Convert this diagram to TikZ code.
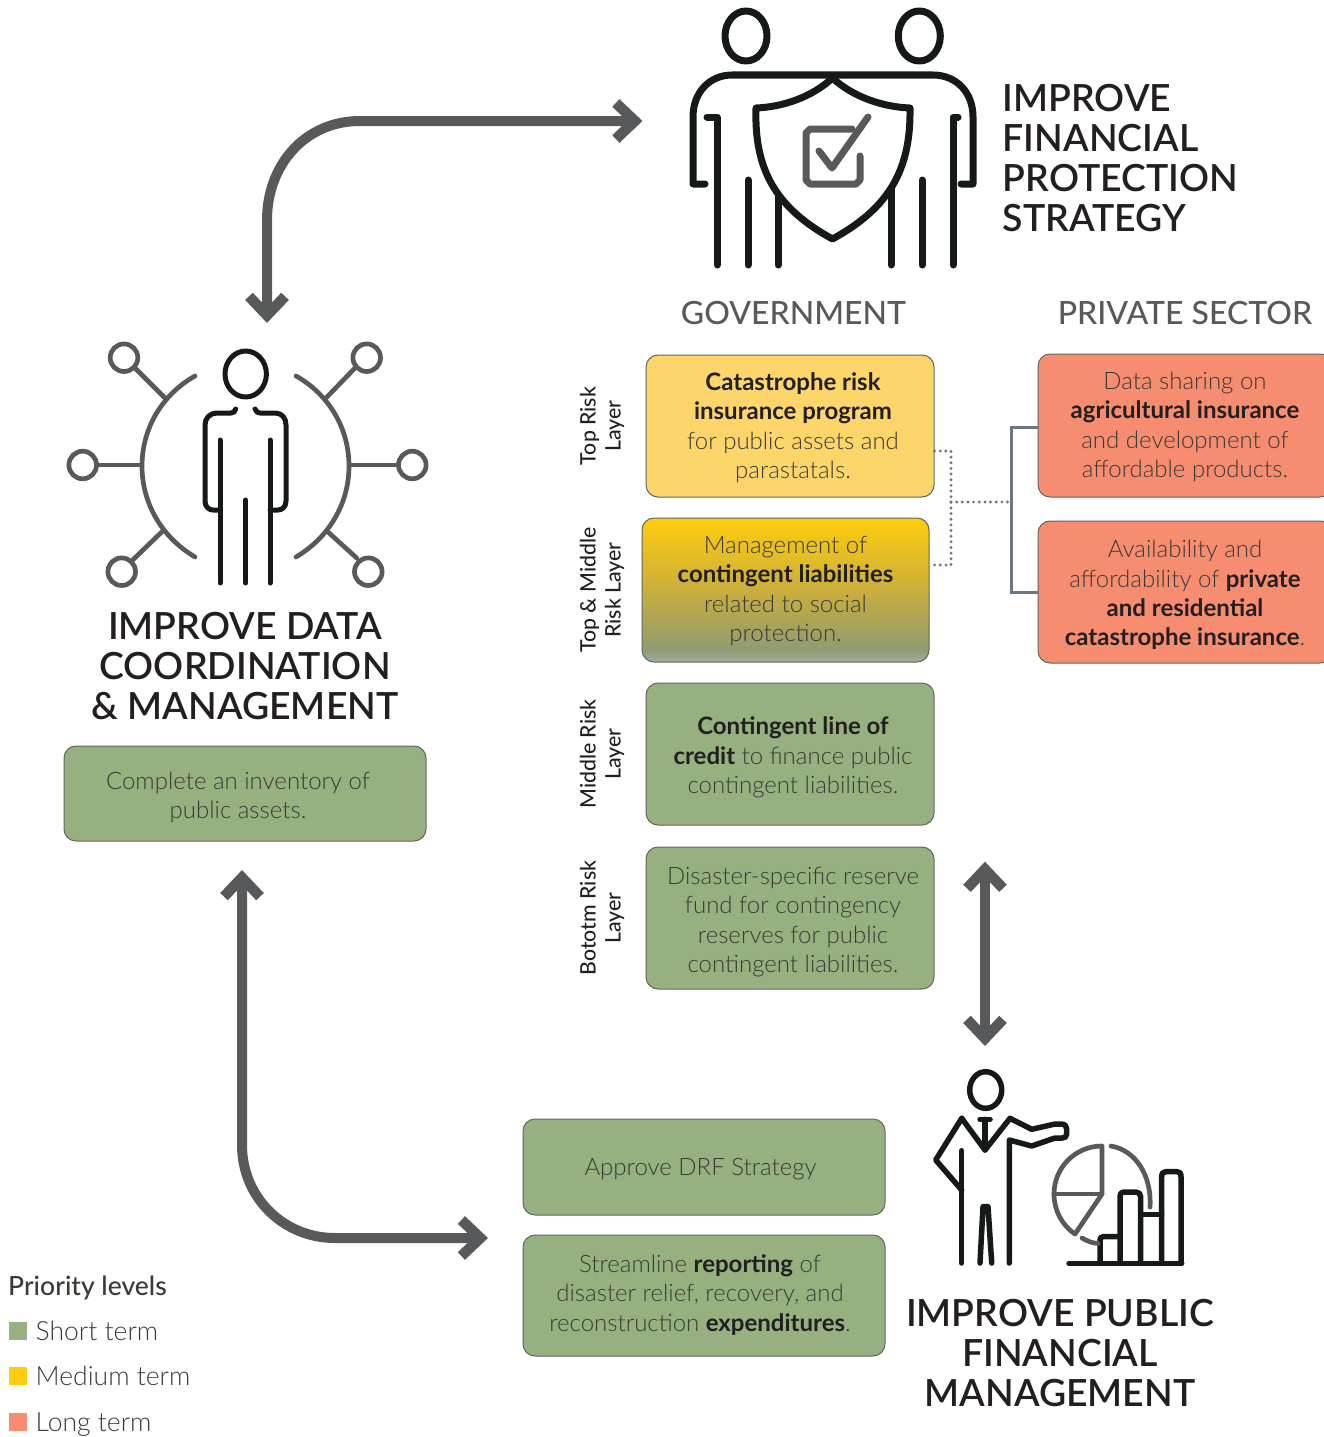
\documentclass[tikz,border=0pt]{standalone}
\usepackage{fontspec}
\setmainfont{Lato}[UprightFont=* Light,BoldFont=* Bold]
\newfontfamily\medf{Lato}[UprightFont=* Medium,BoldFont=* Bold]
\newfontfamily\semif{Lato}[UprightFont=* Semibold,BoldFont=* Bold]
\usetikzlibrary{arrows.meta}
\definecolor{ink}{HTML}{16191A}
\definecolor{iconG}{HTML}{58595B}
\definecolor{txtD}{HTML}{3A3A36}
\definecolor{boldD}{HTML}{231F20}
\definecolor{grn}{HTML}{96B080}
\definecolor{yel}{HTML}{FDD66B}
\definecolor{red1}{HTML}{F68D70}
\definecolor{legY}{HTML}{FFCC0E}
\definecolor{ln}{HTML}{6A7680}
\definecolor{edgeC}{HTML}{5F655F}
\pgfdeclareverticalshading{liabx}{100bp}{rgb(0bp)=(0.624,0.69,0.624); rgb(25bp)=(0.624,0.69,0.624); rgb(29bp)=(0.557,0.612,0.447); rgb(40bp)=(0.686,0.643,0.333); rgb(55bp)=(0.835,0.706,0.196); rgb(75bp)=(1,0.8,0.055); rgb(100bp)=(1,0.8,0.055)}
\tikzset{
 x=1pt,y=-1pt,
 box/.style={draw=edgeC,line width=1pt,rounded corners=12pt,inner sep=0pt},
 boxtext/.style={inner sep=0pt,align=center,text=txtD,font=\fontsize{24}{29.4}\selectfont},
 bw/.style={minimum width=288pt,minimum height=142pt},
 chevron/.tip={Straight Barb[length=19pt,width=36pt,line width=10.5pt,sharp]},
 bigarrow/.style={draw=iconG,line width=10pt,chevron-chevron},
 iconK/.style={draw=ink,line width=7pt,line cap=round,line join=round},
 iconH/.style={draw=iconG,line width=7pt,line cap=round,line join=round},
 personK/.style={draw=ink,line width=5pt,line cap=round,line join=round},
 personG/.style={draw=iconG,line width=4.7pt,line cap=round,line join=round},
 head/.style={font=\semif\fontsize{37.4}{40}\selectfont,text=boldD,inner sep=0pt,align=center},
 column/.style={font=\medf\fontsize{32}{38}\selectfont,text=iconG,inner sep=0pt},
 layer/.style={font=\medf\fontsize{21.3}{25}\selectfont,text=boldD,rotate=90,align=center,inner sep=0pt},
 legtxt/.style={font=\fontsize{26.5}{30}\selectfont,text=txtD,anchor=west,inner sep=0pt,text height=19pt,text depth=0pt},
 swatch/.style={minimum size=18pt,inner sep=0pt},
 dotted line/.style={draw=ln,line width=3.2pt,line cap=round,dash pattern=on 0pt off 5.65pt},
}
\newcommand{\B}[1]{{\color{boldD}\textbf{#1}}}
\begin{document}
\begin{tikzpicture}
\useasboundingbox (0,0) rectangle (1324,1437);
\clip (0,0) rectangle (1324,1437);
% --- protection icon
\draw[iconK] (746,36) ellipse [x radius=21,y radius=25];
\draw[iconK] (919.3,36) ellipse [x radius=21,y radius=25];
\draw[iconK] (705,184) -- (693,184) -- (693,117) .. controls (693,92) and (710,75) .. (732,75) -- (933,75) .. controls (956,75) and (973,92) .. (973,117) -- (973,184) -- (961,184);
\draw[iconK] (707,117) -- (717,117) -- (717,265);
\draw[iconK] (958,117) -- (953,117) -- (953,265);
\draw[iconK] (748,180) -- (748,265);
\draw[iconK] (922,180) -- (922,265);
\draw[iconK] (778,193) -- (778,265);
\draw[iconK] (891,188) -- (891,265);
\draw[iconK,fill=white] (832.5,78) .. controls (812,97) and (783,107) .. (756,108) .. controls (754,170) and (776,208) .. (832.5,239) .. controls (889,208) and (911,170) .. (910,108) .. controls (883,107) and (853,97) .. (832.5,78);
\draw[iconH] (852,129) -- (810,129) -- (806,133) -- (806,180) -- (810,184) -- (856,184) -- (860,180) -- (860,156);
\draw[iconH] (819,151) -- (832,168) -- (868,117);
% --- data icon
\foreach \cx/\cy in {124/357.7,366.7/357.7,82.7/465,412.3/465,121.7/571.7,368.3/571.7}{\draw[personG] (\cx,\cy) circle [radius=13.8];}
\draw[personG] (195,376) .. controls (162.1,394.5) and (142,428.3) .. (142,466) .. controls (142,503.7) and (162.1,537.5) .. (195,557);
\draw[personG] (296,376) .. controls (328.9,394.5) and (349,428.3) .. (349,466) .. controls (349,503.7) and (328.9,537.5) .. (296,557);
\draw[personG] (135,368) -- (165,398);
\draw[personG] (355,368) -- (326,398);
\draw[personG] (98,465) -- (140,465);
\draw[personG] (395,465) -- (350,465);
\draw[personG] (132.7,560) -- (161.7,532);
\draw[personG] (356.7,558) -- (328,532);
\draw[personK] (245.7,374) ellipse [x radius=20.7,y radius=23];
\draw[personK] (235.7,409) .. controls (235,412) and (233,413) .. (231,413) -- (217,413) .. controls (210,413) and (205,418) .. (205,425) -- (205,501) .. controls (205,507) and (209,510) .. (213,510) -- (220,510);
\draw[personK] (255,409) .. controls (256,412) and (258,413) .. (260,413) -- (275,413) .. controls (282,413) and (286,418) .. (286,425) -- (286,501) .. controls (286,507) and (282,510) .. (278,510) -- (270,510);
\draw[personK] (220,440) -- (220,583);
\draw[personK] (270,440) -- (270,583);
\draw[personK] (245.7,500) -- (245.7,583);
% --- public finance icon
\begin{scope}[personK,line width=5.5pt]
\draw (985.7,1090) ellipse [x radius=16,y radius=18.3];
\draw (961.7,1118.3) -- (985,1150) -- (1010,1118.3) -- (1031.7,1129.3) -- (1055,1124) -- (1061,1124) .. controls (1065,1124) and (1066.7,1126) .. (1066.7,1129) -- (1066.7,1134) .. controls (1066.7,1137) and (1065,1138) .. (1062,1138) -- (1055,1138) -- (1031.7,1146) -- (1009.3,1140) -- (1009.3,1263);
\draw (961.7,1118.3) -- (935.7,1160) -- (961.7,1190);
\draw (961.7,1150.7) -- (961.7,1263);
\draw (980,1119.3) -- (990,1119.3);
\draw (985,1119.3) -- (985,1150);
\draw (980,1263) -- (983,1206.7) -- (988,1206.7) -- (991.7,1263);
\draw (1069,1263.3) -- (1181.7,1263.3);
\draw (1100,1263) -- (1100,1240) .. controls (1100,1238) and (1101,1236.7) .. (1103,1236.7) -- (1120,1236.7);
\draw (1120,1263) -- (1120,1197) .. controls (1120,1193) and (1122,1192) .. (1124,1192) -- (1136,1192) .. controls (1139,1192) and (1140.7,1194) .. (1140.7,1197) -- (1140.7,1263);
\draw (1140.7,1214.3) -- (1161.7,1214.3);
\draw (1161.7,1263) -- (1161.7,1177) .. controls (1161.7,1173) and (1163,1171.7) .. (1166,1171.7) -- (1177,1171.7) .. controls (1180,1171.7) and (1181,1173) .. (1181,1177) -- (1181,1263);
\end{scope}
\draw[personG] (1102,1146) .. controls (1075.5,1146) and (1054,1167.5) .. (1054,1194) .. controls (1054,1210) and (1061.7,1225) .. (1075,1234) -- (1102,1194) -- cycle;
\draw[personG] (1054,1194) -- (1102,1194);
\draw[personG] (1111,1146) .. controls (1135,1150) and (1152,1175) .. (1150,1207);
\draw[personG] (1082,1238) .. controls (1087,1241) and (1092,1243) .. (1098,1243.5);
% --- titles
\node[head,anchor=west,align=left] (titleProt) at (1002.5,158.5) {IMPROVE\\FINANCIAL\\PROTECTION\\STRATEGY};
\node[head] (titleData) at (245,666) {IMPROVE DATA\\COORDINATION\\\& MANAGEMENT};
\node[head] (titlePub) at (1060,1353) {IMPROVE PUBLIC\\FINANCIAL\\MANAGEMENT};
\node[column] (gov) at (793.5,313) {GOVERNMENT};
\node[column] (priv) at (1185,313) {PRIVATE SECTOR};
% --- layer labels
\node[layer] (l1) at (602,426) {Top Risk\\Layer};
\node[layer] (l2) at (602,590) {Top \& Middle\\Risk Layer};
\node[layer] (l3) at (602,754) {Middle Risk\\Layer};
\node[layer] (l4) at (602,918) {Bototm Risk\\Layer};
% --- boxes
\node[box,bw,fill=yel] (bCat) at (790,426) {};
\node[box,minimum width=287pt,minimum height=144pt,shading=liabx] (bLiab) at (785.5,590) {};
\node[box,bw,fill=grn] (bCred) at (790,754) {};
\node[box,bw,fill=grn] (bRes) at (790,918) {};
\node[box,minimum width=294pt,minimum height=143pt,fill=red1] (bAg) at (1185,425.5) {};
\node[box,minimum width=294pt,minimum height=142pt,fill=red1] (bPriv) at (1185,592) {};
\node[box,minimum width=362pt,minimum height=95pt,fill=grn] (bInv) at (245,793.5) {};
\node[box,minimum width=362pt,minimum height=96pt,fill=grn] (bDrf) at (704,1167) {};
\node[box,minimum width=362pt,minimum height=121pt,fill=grn] (bRep) at (704,1295.5) {};
% --- box texts
\node[boxtext] (tCat) at (793,427.5) {\B{Catastrophe risk}\\\B{insurance program}\\for public assets and\\parastatals.};
\node[boxtext] (tLiab) at (785.5,591) {Management of\\\B{contingent liabilities}\\related to social\\protection.};
\node[boxtext] (tCred) at (793,757.5) {\B{Contingent line of}\\\B{credit} to finance public\\contingent liabilities.};
\node[boxtext] (tRes) at (793,922) {Disaster-specific reserve\\fund for contingency\\reserves for public\\contingent liabilities.};
\node[boxtext] (tAg) at (1185,427) {Data sharing on\\\B{agricultural insurance}\\and development of\\affordable products.};
\node[boxtext] (tPriv) at (1185,595) {Availability and\\affordability of \B{private}\\\B{and residential}\\\B{catastrophe insurance}.};
\node[boxtext] (tInv) at (238,797.5) {Complete an inventory of\\public assets.};
\node[boxtext] (tDrf) at (700.5,1169) {Approve DRF Strategy};
\node[boxtext] (tRep) at (700,1295) {Streamline \B{reporting} of\\disaster relief, recovery, and\\reconstruction \B{expenditures}.};
% --- connectors between boxes
\coordinate (dA) at (951,451);
\coordinate (dB) at (951,565);
\coordinate (dM) at (951,502);
\coordinate (sA) at (1011,427);
\coordinate (sB) at (1011,592);
\coordinate (sM) at (1011,502);
\draw[dotted line] (bCat.east |- dA) -- (dA) -- (dB) -- (bLiab.east |- dB);
\draw[dotted line] (dM) -- (sM);
\draw[ln,line width=3pt] (bAg.west |- sA) -- (sA) -- (sB) -- (bPriv.west);
% --- big arrows
\coordinate (aTop) at (267,323);
\coordinate (aRight) at (642.5,121);
\coordinate (bTop) at (985,861.7);
\coordinate (bBot) at (985,1046);
\coordinate (cTop) at (242,870);
\coordinate (cRight) at (488,1238);
\draw[bigarrow] (aTop) -- (267,220) .. controls (267,165) and (305,121) .. (360,121) -- (aRight);
\draw[bigarrow] (bTop) -- (bBot);
\draw[bigarrow] (cTop) -- (242,1145) .. controls (242,1197) and (283,1238) .. (335,1238) -- (cRight);
% --- legend
\node[legtxt,font=\medf\fontsize{26.5}{30}\selectfont] (lgT) at (8,1286) {Priority levels};
\node[swatch,fill=grn] (sw1) at (18,1331) {};
\node[swatch,fill=legY] (sw2) at (18,1376) {};
\node[swatch,fill=red1] (sw3) at (18,1422) {};
\node[legtxt] (lg1) at (35.5,1331) {Short term};
\node[legtxt] (lg2) at (35.5,1376) {Medium term};
\node[legtxt] (lg3) at (35.5,1422) {Long term};
\end{tikzpicture}
\end{document}
